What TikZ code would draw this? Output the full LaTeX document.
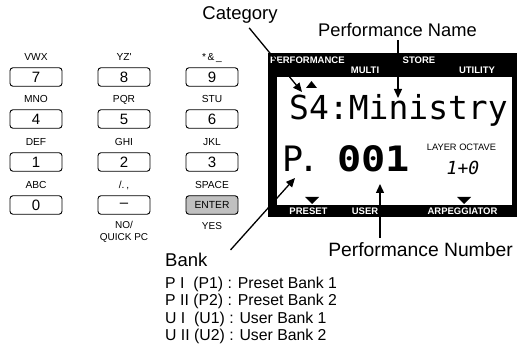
\documentclass[tikz,border=0pt]{standalone}
\usepackage{fontspec}
\setmainfont{Liberation Sans}
\newfontfamily\lcdfont{DejaVu Sans Mono}
\newfontfamily\lcdwide{DejaVu Sans Mono}[FakeStretch=1.15]
\usetikzlibrary{positioning,arrows.meta}
\definecolor{KPGrey}{HTML}{C0C0C0}

\tikzset{
  key/.style={draw,rounded corners=3pt,line width=0.9pt,minimum width=52pt,minimum height=18.5pt,inner sep=0pt,font=\fontsize{15}{15}\selectfont},
  keylab/.style={inner sep=0pt,text height=7.3pt,text depth=0pt,font=\fontsize{10.2}{10.2}\selectfont},
  sublab/.style={inner sep=0pt,align=center,font=\fontsize{10}{12}\selectfont},
  callout/.style={inner sep=0pt,anchor=base,font=\fontsize{18.5}{18.5}\selectfont},
  hdr/.style={text=white,inner sep=0pt,font=\fontsize{9.5}{9.5}\selectfont\bfseries},
  lcd/.style={inner sep=0pt,anchor=base west,font=\lcdfont\fontsize{33}{33}\selectfont},
  ptr/.style={-{Triangle[length=9pt,width=8pt]},line width=1.3pt},
}

\begin{document}
\begin{tikzpicture}[x=1pt,y=-1pt]
\useasboundingbox (0,0) rectangle (517,347);
% keypad
\node[key] (k7) at (36,77) {7};
\node[key] (k8) at (124,77) {8};
\node[key] (k9) at (212,77) {9};
\node[key] (k4) at (36,119) {4};
\node[key] (k5) at (124,119) {5};
\node[key] (k6) at (212,119) {6};
\node[key] (k1) at (36,162) {1};
\node[key] (k2) at (124,162) {2};
\node[key] (k3) at (212,162) {3};
\node[key] (k0) at (36,205) {0};
\node[key] (kno) at (124,205) {--};
\node[key,fill=KPGrey,font=\fontsize{10.3}{10.3}\selectfont] (kent) at (212,205) {ENTER};
\node[keylab,above=6.3pt of k7] (l7) {VWX};
\node[keylab,above=6.3pt of k8] (l8) {YZ\textquotesingle};
\node[keylab,above=6.3pt of k9] (l9) {*\,\&\,\_};
\node[keylab,above=6.3pt of k4] (l4) {MNO};
\node[keylab,above=6.3pt of k5] (l5) {PQR};
\node[keylab,above=6.3pt of k6] (l6) {STU};
\node[keylab,above=6.3pt of k1] (l1) {DEF};
\node[keylab,above=6.3pt of k2] (l2) {GHI};
\node[keylab,above=6.3pt of k3] (l3) {JKL};
\node[keylab,above=6.3pt of k0] (l0) {ABC};
\node[keylab,above=6.3pt of kno] (lsym) {/.\,,};
\node[keylab,above=6.3pt of kent] (lspc) {SPACE};
\node[sublab,below=6pt of kno] (lno) {NO/\\QUICK PC};
\node[sublab,below=8pt of kent] (lyes) {YES};

% display
\fill (268,53) rectangle (517,217);
\fill[white] (277,77) rectangle (512,205);
\node[hdr,anchor=west] (hperf) at (270,60) {PERFORMANCE};
\node[hdr] (hmulti) at (365,70) {MULTI};
\node[hdr] (hstore) at (419,60) {STORE};
\node[hdr] (hutil) at (477,70) {UTILITY};
\fill (306,88) -- (317,88) -- (311.5,81) -- cycle;
\node[lcd] (pname) at (289,120) {S4:Ministry};
\node[lcd,font=\lcdfont\fontsize{35}{35}\selectfont] (bankp) at (282,172) {P\kern-5pt.};
\node[lcd,font=\lcdwide\bfseries\fontsize{35}{35}\selectfont] (pnum) at (337,172) {001};
\node[inner sep=0pt,font=\fontsize{9.3}{9.3}\selectfont] (layer) at (461.5,147.5) {LAYER OCTAVE};
\node[inner sep=0pt,anchor=base,font=\lcdfont\itshape\fontsize{18}{18}\selectfont] (oct) at (463,175) {1+0};
\fill (305,197) -- (319,197) -- (312,204) -- cycle;
\fill (457,197) -- (471,197) -- (464,204) -- cycle;
\node[hdr] (fpre) at (308.5,211.5) {PRESET};
\node[hdr] (fuser) at (365,211.5) {USER};
\node[hdr] (farp) at (462.5,211.5) {ARPEGGIATOR};

% callouts
\node[callout] (cat) at (240,20) {Category};
\node[callout,font=\fontsize{18.3}{18.3}\selectfont] (nameLbl) at (397.5,37) {Performance Name};
\node[callout,font=\fontsize{19.3}{19.3}\selectfont] (numLbl) at (420.5,257) {Performance Number};
\node[callout,anchor=base west] (bank) at (165,266.5) {Bank};
\node[inner sep=0pt,anchor=north west,align=left,font=\fontsize{15.8}{17.3}\selectfont] (banklist) at (165,277) {P I\ \ (P1) : Preset Bank 1\\P II (P2) : Preset Bank 2\\U I\ \ (U1) : User Bank 1\\U II (U2) : User Bank 2};

\coordinate (catTip) at (302,92);
\coordinate (nameTip) at (398,98);
\coordinate (bankTip) at (295,178);
\coordinate (numTip) at (380,184);
\draw[ptr,shorten <=5pt] ([xshift=6pt]cat.south) -- (catTip);
\draw[ptr] ([yshift=-3pt]nameLbl.south -| nameTip) -- (nameTip);
\draw[ptr] ([xshift=23pt,yshift=3pt]bank.north east) -- (bankTip);
\draw[ptr] ([yshift=5pt]numLbl.north -| numTip) -- (numTip);
\end{tikzpicture}
\end{document}
